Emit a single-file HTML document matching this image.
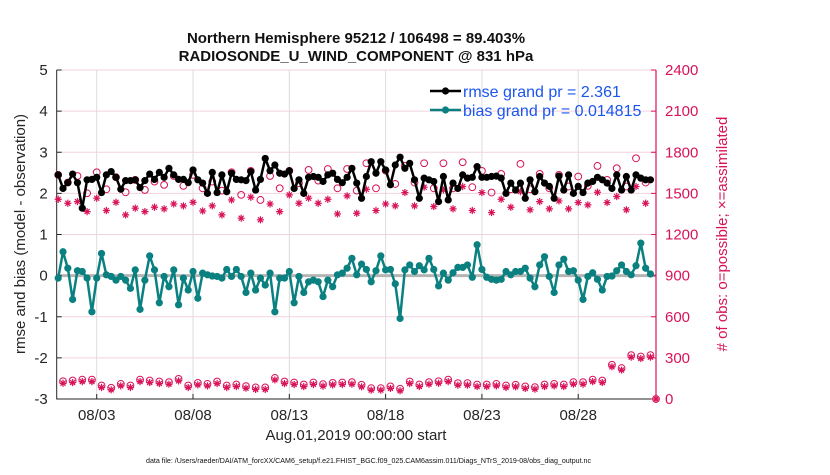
<!DOCTYPE html>
<html><head><meta charset="utf-8"><style>
body{margin:0;background:#fff;width:830px;height:470px;overflow:hidden;font-family:"Liberation Sans",Arial,sans-serif}
</style></head><body>
<svg id="chart" width="830" height="470" xmlns="http://www.w3.org/2000/svg" font-family="Liberation Sans, Arial, sans-serif"></svg>
<script>
const rmse=[2.45,2.12,2.26,2.47,2.26,1.64,2.33,2.34,2.39,2.02,2.45,2.53,2.39,2.10,2.31,2.31,2.33,2.14,2.31,2.47,2.34,2.51,2.39,2.61,2.45,2.34,2.34,2.26,2.57,2.33,2.25,2.0,2.51,2.02,2.45,2.04,2.49,2.34,2.33,2.31,2.53,2.08,2.34,2.85,2.55,2.69,2.49,2.47,2.55,2.12,2.33,2.0,2.39,2.41,2.39,2.29,2.45,2.49,2.34,2.26,2.39,2.61,
2.25,1.88,2.41,2.77,2.49,2.77,2.57,2.21,2.69,2.88,2.61,2.73,2.33,1.88,2.37,2.33,2.29,1.80,2.41,1.84,2.25,2.12,2.45,2.37,2.39,2.65,2.39,2.39,2.41,2.42,2.37,2.0,2.25,2.08,2.25,1.88,2.33,2.04,2.41,2.25,2.17,1.88,2.42,2.08,2.45,2.0,2.17,2.02,2.25,2.29,2.39,2.33,2.25,2.12,2.45,2.08,2.41,2.08,2.45,2.37,2.33,2.33];
const bias=[-.06,.58,.18,-.58,.12,.10,-.06,-.88,-.06,.54,.02,-.02,-.11,-.02,-.11,-.31,.14,-.82,-.11,.48,.14,-.66,-.02,-.27,.14,-.71,-.06,-.35,.10,-.55,.06,.02,-.01,-.02,-.06,.15,-.02,.15,-.02,-.41,.06,-.35,-.06,-.23,.06,-.88,-.06,-.06,.10,-.66,-.02,-.41,-.15,-.11,-.15,-.51,-.11,-.27,.02,.06,.18,.42,
.02,.28,.15,-.15,.12,.48,.14,.15,-.20,-1.04,.14,.26,.10,.24,.14,.42,.15,-.25,.06,-.11,.07,.20,.20,.26,-.04,.75,.15,-.04,-.09,-.11,-.09,.10,.02,.10,.10,.18,-.06,-.27,.26,.46,-.02,-.41,.26,.40,.10,.12,-.11,-.58,-.02,.07,-.09,-.35,-.02,-.01,.12,.26,.10,.02,.24,.79,.18,.04];
const possibleMain=[1635,1579,1627,1501,1654,1530,1618,1508,1598,1525,1586,1562,1627,1555,1635,1537,1586,1520,1654,1489,1664,1452,1627,1537,1664,1574,1671,1593,1678,1537,1678,1520,
1720,1537,1666,1569,1700,1579,1720,1537,1720,1537,1727,1545,1664,1506,1642,1530,1715,1530,1642,1537,1635,1550,1623,1555,1700,1598,1683,1550,1756,1579];
const assimMain=[1457,1428,1440,1367,1465,1375,1435,1343,1392,1367,1399,1387,1423,1409,1435,1372,1409,1343,1452,1319,1472,1307,1423,1367,1489,1428,1465,1428,1457,1350,1482,1355,
1530,1375,1423,1409,1506,1409,1545,1404,1525,1387,1550,1375,1506,1360,1457,1399,1513,1380,1440,1387,1445,1387,1433,1416,1508,1433,1477,1380,1550,1428];
const countsOff=[115,120,127,127,84,67,96,84,127,120,113,108,132,84,103,96,113,84,91,79,70,70,139,113,106,91,106,94,103,106,108,89,65,65,77,60,113,91,108,115,127,101,101,91,91,96,84,89,77,72,91,96,91,108,108,127,120,235,211,305,295,305];
const finalCount=0;
const xTicks=[2,7,12,17,22,27];
const xTickLabels=["08/03","08/08","08/13","08/18","08/23","08/28"];
const yTicks=[-3,-2,-1,0,1,2,3,4,5];
const rTicks=[0,300,600,900,1200,1500,1800,2100,2400];

const NS="http://www.w3.org/2000/svg";
const svg=document.getElementById('chart');
const L=56.7,R=656,T=70,B=399;
const day0=58.2,pxDay=19.26;
const X=d=>day0+d*pxDay;
const Y=v=>T+(5-v)*(B-T)/8;
const YR=c=>B-c*(B-T)/2400;
const PINK="#d8135a",TEAL="#0a8080";
function el(tag,a,parent){const e=document.createElementNS(NS,tag);for(const k in a)e.setAttribute(k,a[k]);(parent||svg).appendChild(e);return e;}

xTicks.forEach(d=>{const g=el('line',{x1:X(d),x2:X(d),y1:T,y2:B,stroke:'#dcdcdc','stroke-width':1});

});
yTicks.forEach(v=>{const g=el('line',{x1:L,x2:R,y1:Y(v),y2:Y(v),stroke:'#f3d3de','stroke-width':1});

});
const zl=el('line',{x1:L,x2:R,y1:Y(0),y2:Y(0),stroke:'#b4b4b4','stroke-width':3});



const ax=el('path',{d:`M${L},${T}V${B}H${R}`,fill:'none',stroke:'#262626','stroke-width':1});


const rax=el('line',{x1:R,x2:R,y1:T,y2:B,stroke:PINK,'stroke-width':1.2});


xTicks.forEach((d,i)=>{
 el('line',{x1:X(d),x2:X(d),y1:B,y2:B-5,stroke:'#262626'});
 const t=el('text',{x:X(d),y:B+21,'text-anchor':'middle','font-size':15,fill:'#262626'});t.textContent=xTickLabels[i];
 
 
});
yTicks.forEach(v=>{
 el('line',{x1:L,x2:L+5,y1:Y(v),y2:Y(v),stroke:'#262626'});
 const t=el('text',{x:L-9,y:Y(v)+5,'text-anchor':'end','font-size':15,fill:'#262626'});t.textContent=v;
 
 
});
rTicks.forEach(c=>{
 el('line',{x1:R,x2:R-5,y1:YR(c),y2:YR(c),stroke:PINK});
 const t=el('text',{x:R+9,y:YR(c)+5,'text-anchor':'start','font-size':15,fill:PINK});t.textContent=c;
 
 
});

function circ(x,y){const c=el('circle',{cx:x,cy:y,r:3.4,fill:'none',stroke:PINK,'stroke-width':1});

}
function star(x,y){const s=3.6,d=s*0.7;const p=el('path',{d:`M${x-s},${y}H${x+s}M${x},${y-s}V${y+s}M${x-d},${y-d}L${x+d},${y+d}M${x-d},${y+d}L${x+d},${y-d}`,stroke:PINK,'stroke-width':1.2});

}
possibleMain.forEach((c,i)=>circ(X(i*0.5),YR(c)));
assimMain.forEach((c,i)=>star(X(i*0.5),YR(c)));
countsOff.forEach((c,i)=>{circ(X(0.25+i*0.5),YR(c)-2);star(X(0.25+i*0.5),YR(c));});
circ(R,YR(finalCount));star(R,YR(finalCount));

function series(vals,color,name){
 const pts=vals.map((v,i)=>[X(i*0.25),Y(v)]);
 const pl=el('polyline',{points:pts.map(p=>p.join(',')).join(' '),fill:'none',stroke:color,'stroke-width':2.5,'stroke-linejoin':'round'});
 
 
 pts.forEach(p=>{const c=el('circle',{cx:p[0],cy:p[1],r:3.6,fill:color});
 
 });
}
series(rmse,'#000','rmse');
series(bias,TEAL,'bias');

const lg=el('g',{});


[['#000','rmse grand pr = 2.361',91],[TEAL,'bias grand pr = 0.014815',110]].forEach(([c,t,y])=>{
 el('line',{x1:430,x2:461,y1:y,y2:y,stroke:c,'stroke-width':2.5},lg);
 el('circle',{cx:445.5,cy:y,r:3.6,fill:c},lg);
 const tx=el('text',{x:463,y:y+6,'font-size':16,fill:'#1a55f0'},lg);tx.textContent=t;
 
 
});

function txt(x,y,s,a,name){const t=el('text',a);t.setAttribute('x',x);t.setAttribute('y',y);t.textContent=s;

return t;}
txt(356,43,'Northern Hemisphere 95212 / 106498 = 89.403%',{'text-anchor':'middle','font-size':15,'font-weight':'bold',fill:'#111'},'chart-title');
txt(356,61,'RADIOSONDE_U_WIND_COMPONENT @ 831 hPa',{'text-anchor':'middle','font-size':15,'font-weight':'bold',fill:'#111'},'chart-subtitle');
txt(356,440,'Aug.01,2019 00:00:00 start',{'text-anchor':'middle','font-size':15,fill:'#262626'},'x-axis-title');
txt(146,463,'data file: /Users/raeder/DAI/ATM_forcXX/CAM6_setup/f.e21.FHIST_BGC.f09_025.CAM6assim.011/Diags_NTrS_2019-08/obs_diag_output.nc',{'text-anchor':'start','font-size':7.1,fill:'#111'},'data-file-note');
txt(0,0,'rmse and bias (model - observation)',{'text-anchor':'middle','font-size':15,fill:'#262626',transform:'translate(25,234) rotate(-90)'},'y-axis-title');
txt(0,0,'# of obs: o=possible; \u00d7=assimilated',{'text-anchor':'middle','font-size':15,fill:PINK,transform:'translate(727,234) rotate(-90)'},'right-axis-title');
</script>
</body></html>
